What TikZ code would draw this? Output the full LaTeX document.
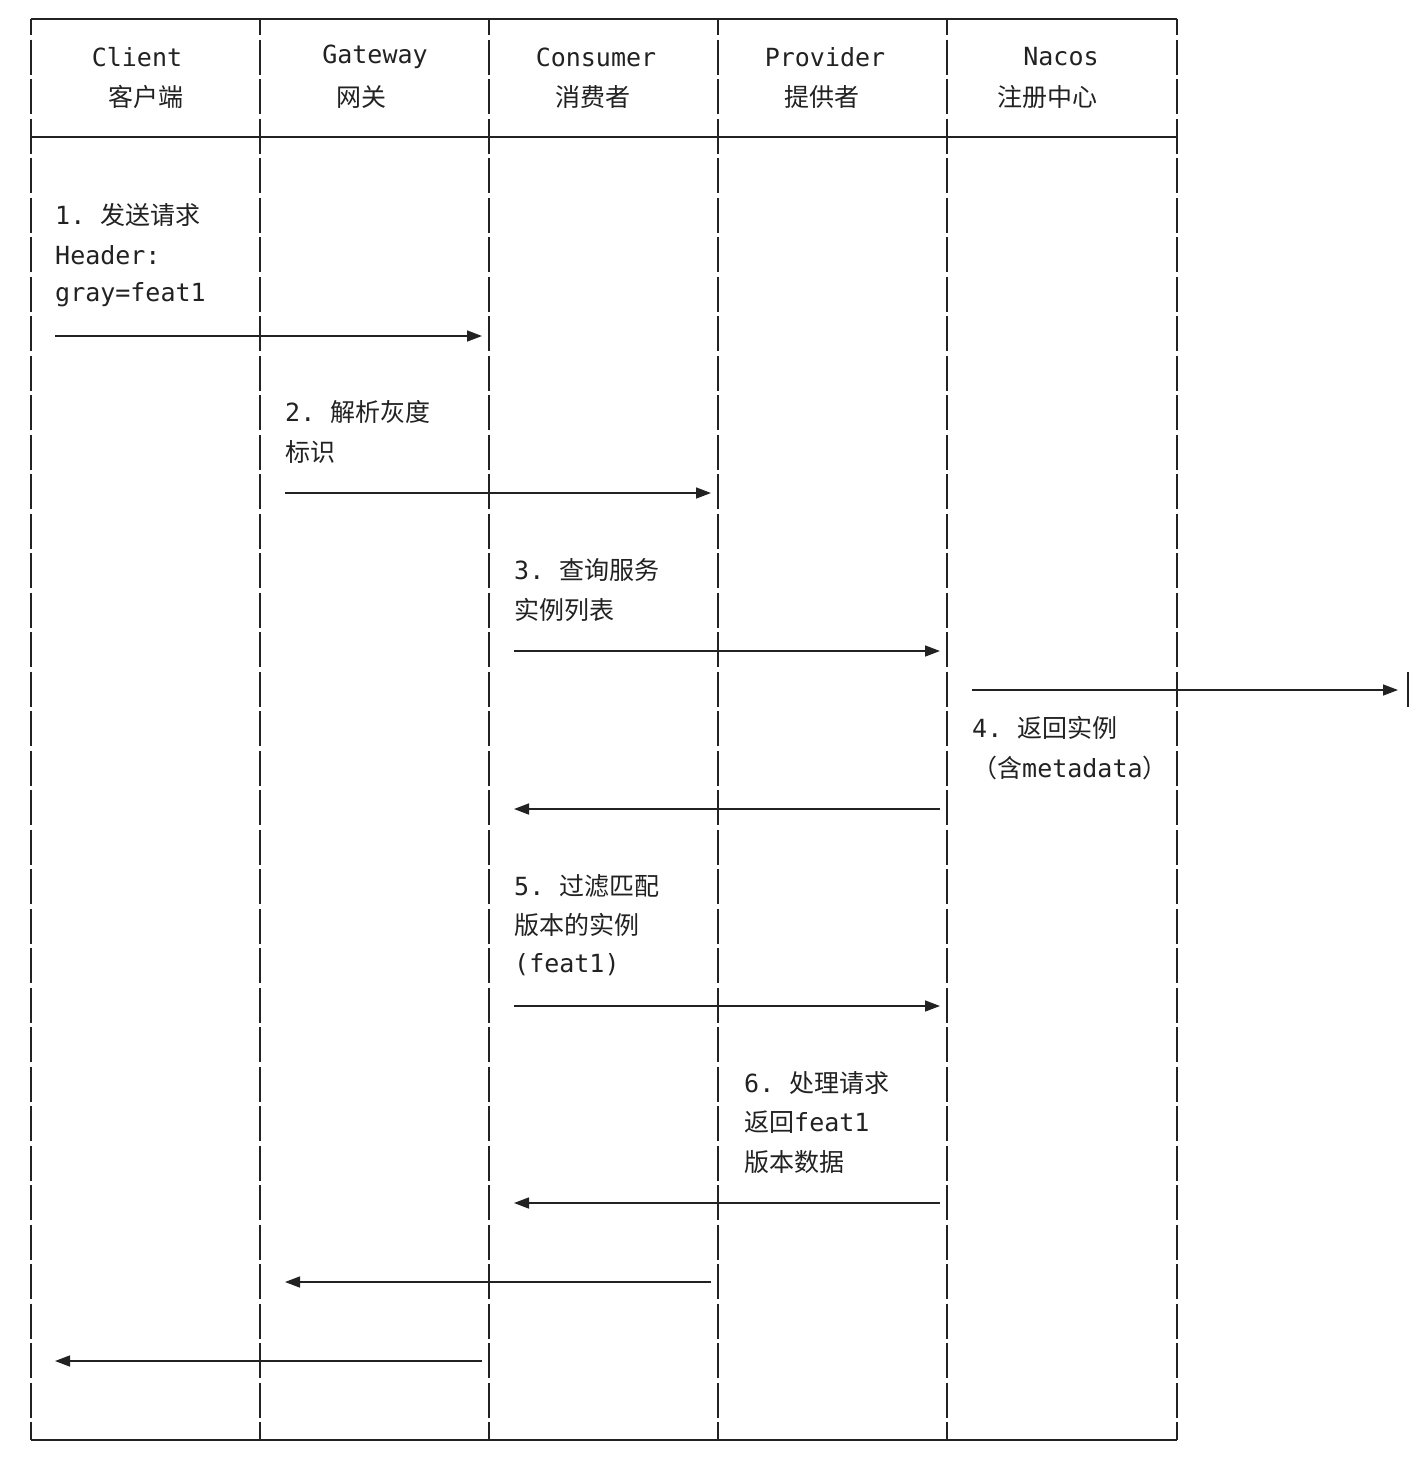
\documentclass[tikz,border=0pt]{standalone}
\usepackage{fontspec}
\setmonofont{DejaVu Sans Mono}
\newfontfamily\cjk{Noto Sans CJK SC}
\usetikzlibrary{arrows.meta}
\definecolor{ink}{HTML}{222222}
\newcommand{\C}[1]{{\cjk #1}}
\begin{document}
\begin{tikzpicture}[x=1pt,y=-1pt,
  lane/.style={ink,line width=1.6pt,dash pattern=on 35pt off 4.5pt,dash phase=19pt},
  frame/.style={ink,line width=1.8pt},
  msg/.style={ink,line width=1.5pt,-{Triangle[length=15pt,width=11pt]}},
  lbl/.style={anchor=west,inner sep=0pt,text=ink,font=\ttfamily\fontsize{25}{30}\selectfont},
  hdr/.style={anchor=center,inner sep=0pt,text=ink,font=\ttfamily\fontsize{25}{30}\selectfont}]
\fill[white] (0,0) rectangle (1424,1460);
\useasboundingbox (0,0) rectangle (1424,1460);
% lanes
\foreach \x in {31,260,489,718,947,1177} \draw[lane] (\x,19) -- (\x,1440);
\draw[frame] (31,19) -- (1177,19);
\draw[frame] (31,137) -- (1177,137);
\draw[frame] (31,1440) -- (1177,1440);
% headers
\node[hdr] (h1a) at (137,57) {Client};   \node[hdr] (h1b) at (146,97) {\C{客户端}};
\node[hdr] (h2a) at (375,57) {Gateway};  \node[hdr] (h2b) at (361,97) {\C{网关}};
\node[hdr] (h3a) at (596,57) {Consumer}; \node[hdr] (h3b) at (593,97) {\C{消费者}};
\node[hdr] (h4a) at (825,57) {Provider}; \node[hdr] (h4b) at (822,97) {\C{提供者}};
\node[hdr] (h5a) at (1061,57) {Nacos};   \node[hdr] (h5b) at (1047,97) {\C{注册中心}};
% labels
\node[lbl] (l1a) at (55,215) {1. \C{发送请求}};
\node[lbl] (l1b) at (55,255) {Header:};
\node[lbl] (l1c) at (55,295) {gray=feat1};
\node[lbl] (l2a) at (285,412) {2. \C{解析灰度}};
\node[lbl] (l2b) at (285,452) {\C{标识}};
\node[lbl] (l3a) at (514,570) {3. \C{查询服务}};
\node[lbl] (l3b) at (514,610) {\C{实例列表}};
\node[lbl] (l4a) at (972,728) {4. \C{返回实例}};
\node[lbl] (l4b) at (972,768) {\C{（含}metadata\C{）}};
\node[lbl] (l5a) at (514,886) {5. \C{过滤匹配}};
\node[lbl] (l5b) at (514,925) {\C{版本的实例}};
\node[lbl] (l5c) at (514,965) {(feat1)};
\node[lbl] (l6a) at (744,1083) {6. \C{处理请求}};
\node[lbl] (l6b) at (744,1122) {\C{返回}feat1};
\node[lbl] (l6c) at (744,1162) {\C{版本数据}};
% arrow endpoints
\foreach \n/\x/\y in {a1/55/336,b1/482/336,a2/285/493,b2/711/493,a3/514/651,b3/940/651,
  a4/972/690,b4/1398/690,a5/940/809,b5/514/809,a6/514/1006,b6/940/1006,
  a7/940/1203,b7/514/1203,a8/711/1282,b8/285/1282,a9/482/1361,b9/55/1361}
  \coordinate (\n) at (\x,\y);
\foreach \i in {1,...,9} \draw[msg] (a\i) -- (b\i);
\coordinate (e1) at (1408,672); \coordinate (e2) at (1408,707);
\draw[ink,line width=1.6pt] (e1) -- (e2);
\end{tikzpicture}
\end{document}
